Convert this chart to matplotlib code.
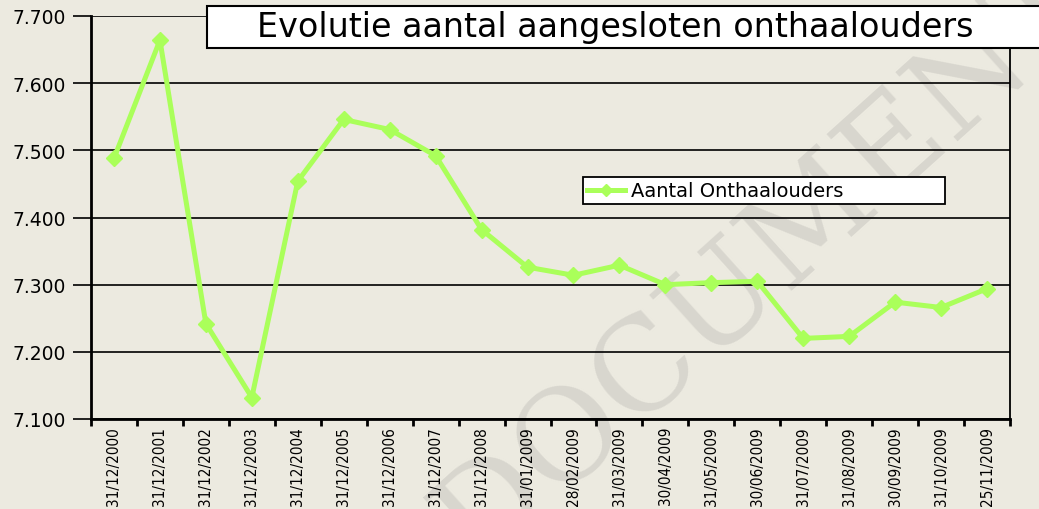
import matplotlib
matplotlib.use("Agg")
import matplotlib.pyplot as plt
from matplotlib.patches import Rectangle
from matplotlib.ticker import FuncFormatter, FixedLocator, NullFormatter

dates = ["31/12/2000", "31/12/2001", "31/12/2002", "31/12/2003", "31/12/2004",
         "31/12/2005", "31/12/2006", "31/12/2007", "31/12/2008", "31/01/2009",
         "28/02/2009", "31/03/2009", "30/04/2009", "31/05/2009", "30/06/2009",
         "31/07/2009", "31/08/2009", "30/09/2009", "31/10/2009", "25/11/2009"]
onthaalouders = [7488, 7664, 7242, 7132, 7454, 7546, 7531, 7492, 7382, 7326,
                 7314, 7329, 7300, 7303, 7305, 7220, 7223, 7274, 7266, 7294]
yticks = [7100, 7200, 7300, 7400, 7500, 7600, 7700]
title = "Evolutie aantal aangesloten onthaalouders"
series_name = "Aantal Onthaalouders"

BG = "#ECEAE0"
GREEN = "#AAFF5A"

W, H = 1039, 510
fig = plt.figure(figsize=(W / 100, H / 100), dpi=100, facecolor=BG)

# watermark (behind everything)
fig.text(765 / W, 1 - 262 / H, "DOCUMENT", rotation=42, fontsize=92,
         color="#D8D6CE", ha="center", va="center", family="DejaVu Serif",
         fontweight="normal", zorder=-5)

ax = fig.add_axes([91 / W, 1 - 420 / H, (1010 - 91) / W, (420 - 17) / H])
ax.patch.set_visible(False)
ax.set_zorder(1)

x = list(range(len(dates)))
ax.plot(x, onthaalouders, color=GREEN, lw=3.6, marker="D", markersize=8.5,
        markeredgecolor=GREEN, markerfacecolor=GREEN, label=series_name, zorder=3)

ax.set_xlim(-0.5, len(dates) - 0.5)
ax.set_ylim(yticks[0], yticks[-1])
ax.set_yticks(yticks)
ax.yaxis.set_major_formatter(FuncFormatter(lambda v, p: f"{int(v):,}".replace(",", ".")))
ax.grid(axis="y", color="black", lw=1.2)
ax.set_axisbelow(True)

ax.set_xticks(x)
ax.set_xticklabels(dates, rotation=90, family="DejaVu Sans", fontstretch="condensed",
                   fontsize=11)
ax.xaxis.set_minor_locator(FixedLocator([i - 0.5 for i in range(len(dates) + 1)]))
ax.xaxis.set_minor_formatter(NullFormatter())
ax.tick_params(axis="x", which="major", length=0, pad=5)
ax.tick_params(axis="x", which="minor", length=5, width=2, color="black", direction="out")
ax.tick_params(axis="y", length=13, width=1.2, pad=5, labelsize=13.5)

for s in ["left", "bottom"]:
    ax.spines[s].set_linewidth(2)
ax.spines["right"].set_linewidth(1.3)
ax.spines["top"].set_visible(False)

leg = ax.legend(loc="lower left", bbox_to_anchor=(0.535, 0.533, 0.394, 0.063),
                mode="expand", frameon=True, fancybox=False, fontsize=14,
                handlelength=2.0, handletextpad=0.3, borderpad=0.2,
                borderaxespad=0, markerscale=0.7)
leg.get_frame().set_edgecolor("black")
leg.get_frame().set_linewidth(1.3)
leg.get_frame().set_facecolor("white")
leg.get_frame().set_alpha(1)

# title box
fig.patches.append(Rectangle((207 / W, 1 - 49 / H), (W + 10 - 207) / W, 42 / H,
                             transform=fig.transFigure, facecolor="white",
                             edgecolor="black", lw=1.5, zorder=5))
fig.text(257 / W, 1 - 28 / H, title, fontsize=24, ha="left", va="center",
         family="DejaVu Sans", zorder=6)

fig.savefig("out.png", dpi=100, facecolor=BG)
